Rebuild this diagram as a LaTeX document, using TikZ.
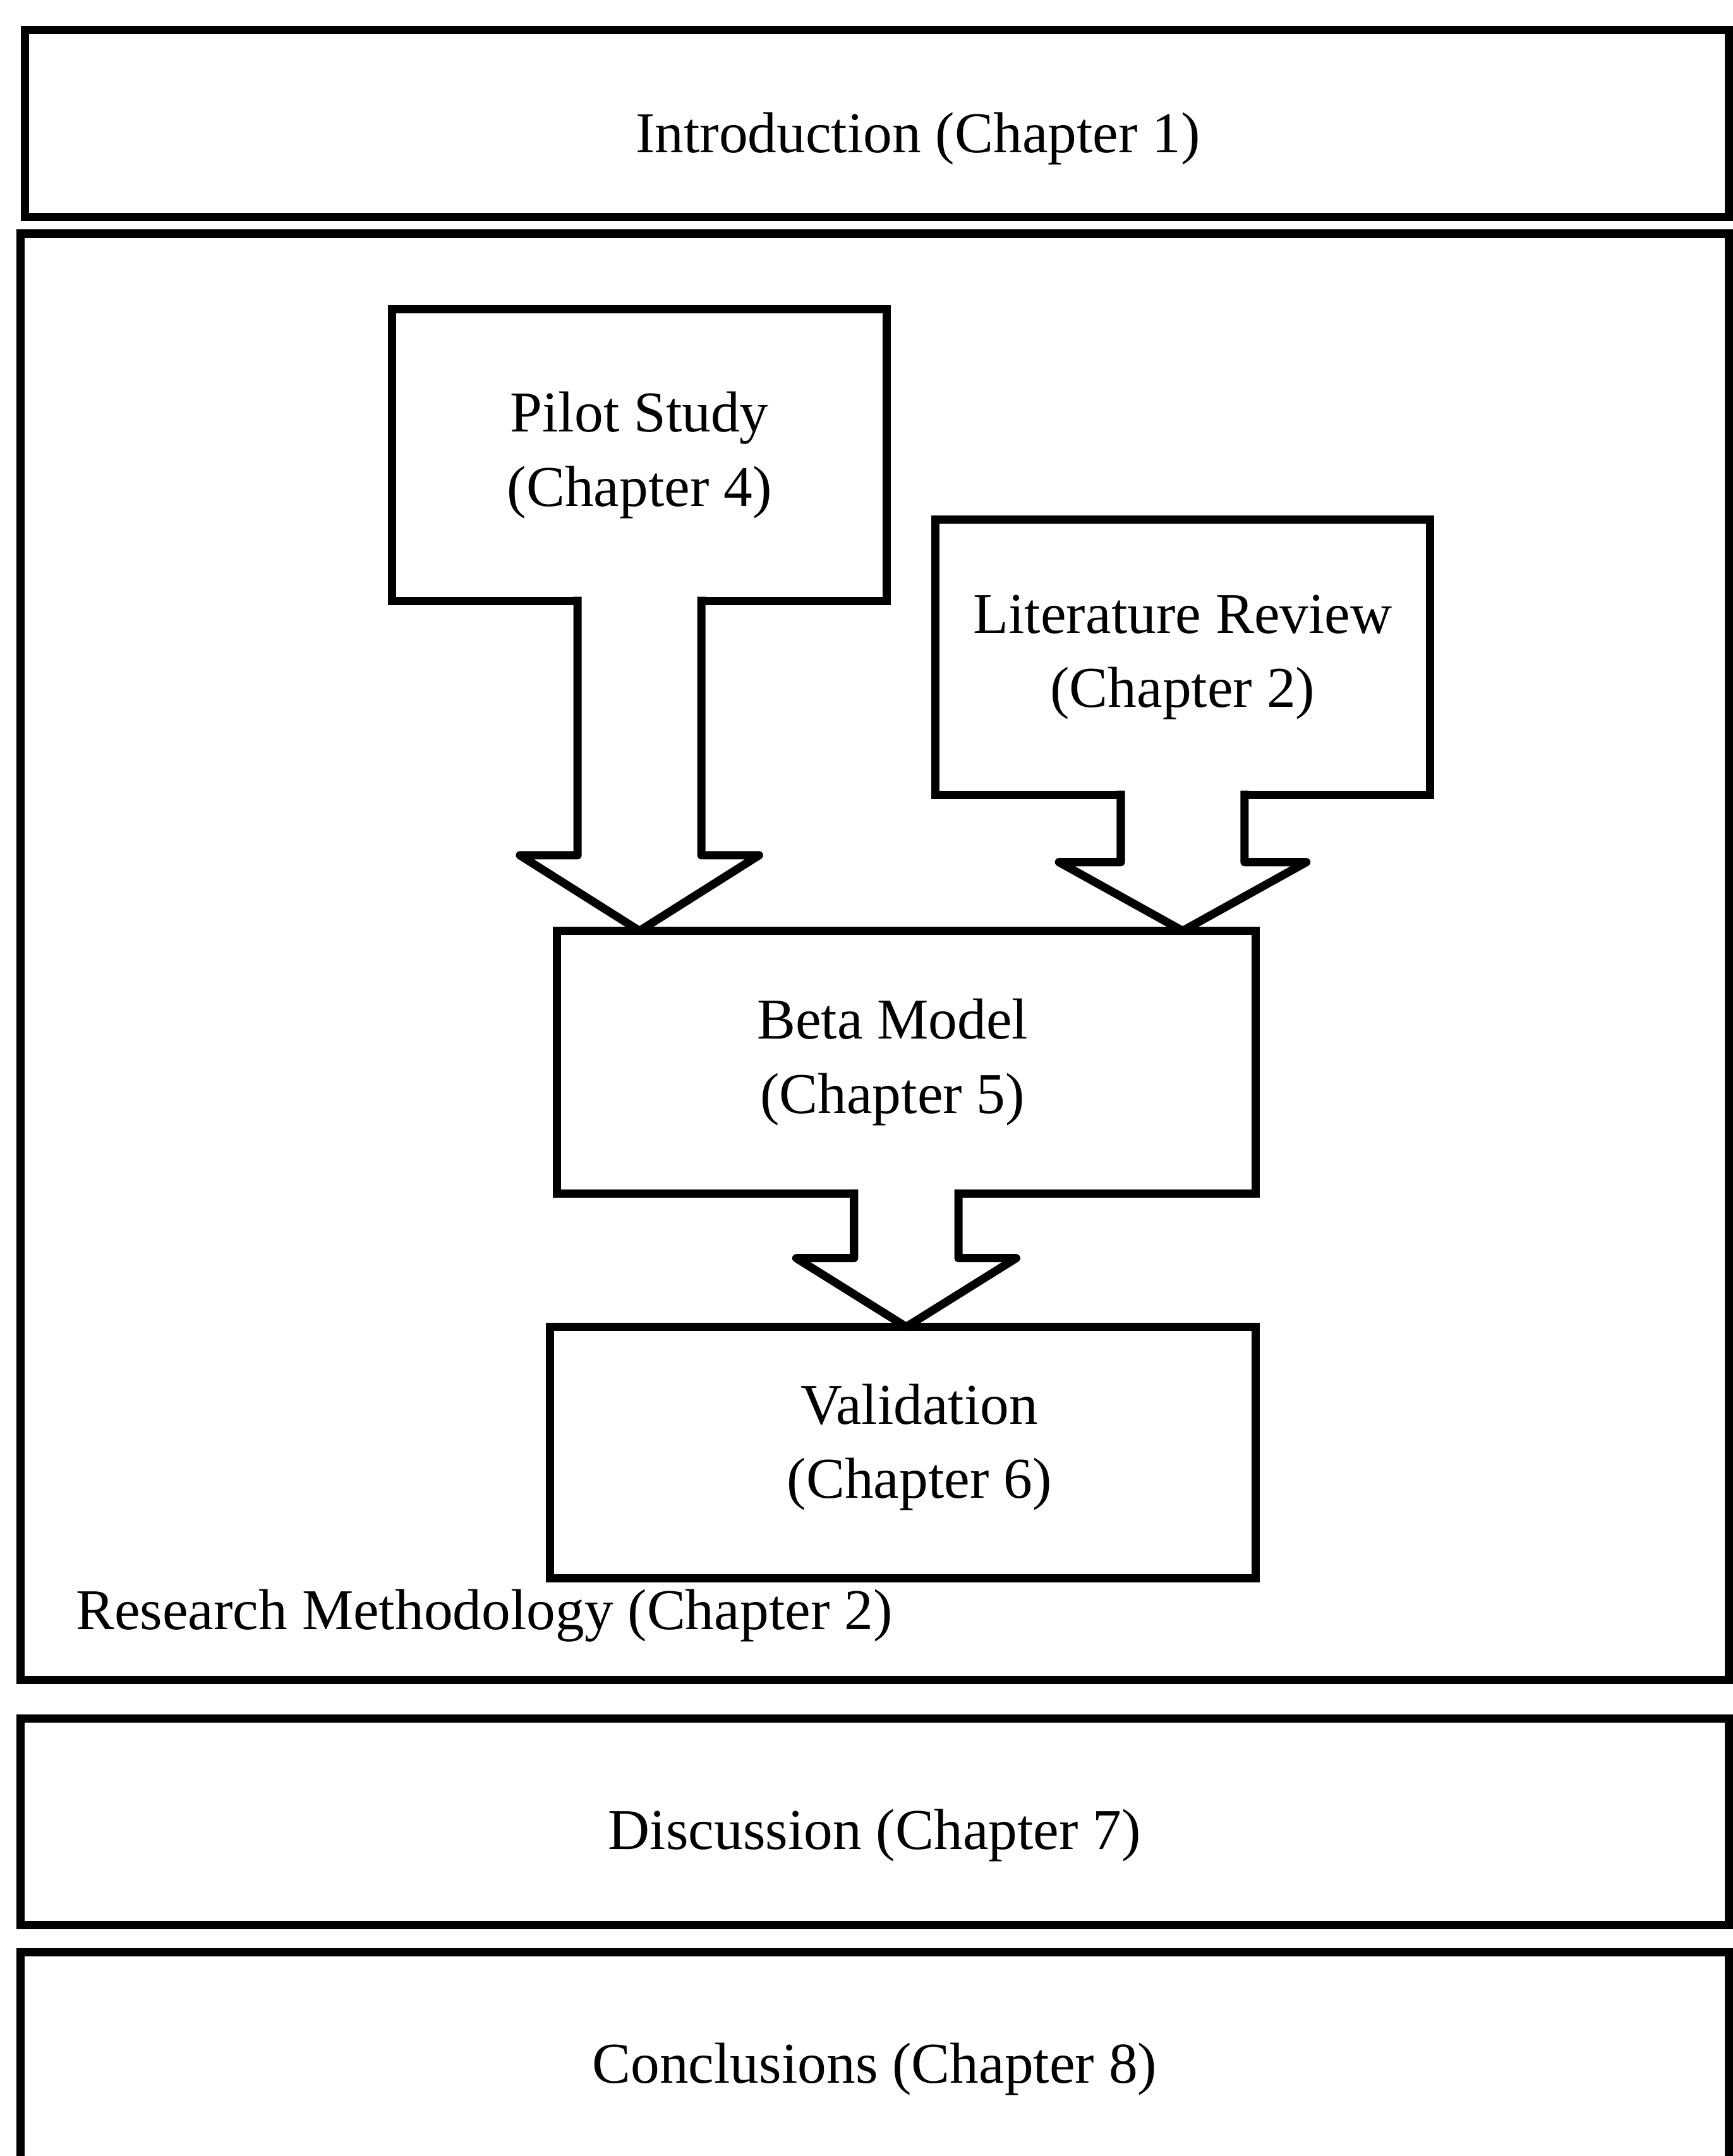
\documentclass[tikz,border=0pt]{standalone}
\usepackage{fontspec}
\setmainfont{Liberation Serif}
\usetikzlibrary{calc}
\begin{document}
\begin{tikzpicture}[x=1pt,y=1pt,
  txt/.style={align=center, inner sep=0pt, font=\fontsize{42}{54}\selectfont},
  box/.style={draw, line width=6pt, fill=white, inner sep=0pt, outer sep=0pt, txt},
  blockarrow/.style={draw, line width=6pt, line join=round}]
\useasboundingbox (0,0) rectangle (1260,1568);

% chapter frames
\node[box, minimum width=1239pt, minimum height=136pt,
  label={[txt, xshift=30pt, yshift=-11pt, name=introtext]center:Introduction (Chapter 1)}] (intro) at (637.5,1478) {};
\node[box, minimum width=1242pt, minimum height=1052pt] (method) at (636,872) {};
\node[box, minimum width=1242pt, minimum height=150pt,
  label={[txt, yshift=-10pt, name=disctext]center:Discussion (Chapter 7)}] (disc) at (636,243) {};
\node[box, minimum width=1242pt, minimum height=170pt] (concl) at (636,63) {Conclusions (Chapter 8)};
\node[txt, anchor=west] (methodlabel) at (55,393) {Research Methodology (Chapter 2)};

% inner stages
\node[box, minimum width=360pt, minimum height=212pt] (pilot) at (465,1237) {Pilot Study\\(Chapter 4)};
\node[box, minimum width=360pt, minimum height=200pt] (lit) at (860,1090) {Literature Review\\(Chapter 2)};
\node[box, minimum width=508pt, minimum height=191pt,
  label={[txt, xshift=-10pt, name=betatext]center:Beta Model\\(Chapter 5)}] (beta) at (659,795.5) {};
\node[box, minimum width=513pt, minimum height=183pt,
  label={[txt, xshift=12pt, yshift=4pt, name=validtext]center:Validation\\(Chapter 6)}] (valid) at (656.5,511.5) {};

% block arrows (shaft half width s, head half width h, head length l):
% the white fill opens the source box's bottom edge, then the outline is stroked
\foreach \src/\dst/\s/\h/\l/\t in {pilot/beta/45/87/55/t1, lit/beta/45/90/50/t2, beta/valid/38/80/50/t3}{
  \coordinate (\t) at (\src.south |- \dst.north);
  \fill[white] ($(\src.south)+(-\s,3.5)$) -- ($(\t)+(-\s,\l)$) -- ($(\t)+(-\h,\l)$) -- (\t)
    -- ($(\t)+(\h,\l)$) -- ($(\t)+(\s,\l)$) -- ($(\src.south)+(\s,3.5)$) -- cycle;
  \draw[blockarrow] ($(\src.south)+(-\s,3)$) -- ($(\t)+(-\s,\l)$) -- ($(\t)+(-\h,\l)$) -- (\t)
    -- ($(\t)+(\h,\l)$) -- ($(\t)+(\s,\l)$) -- ($(\src.south)+(\s,3)$);
}
\end{tikzpicture}
\end{document}
